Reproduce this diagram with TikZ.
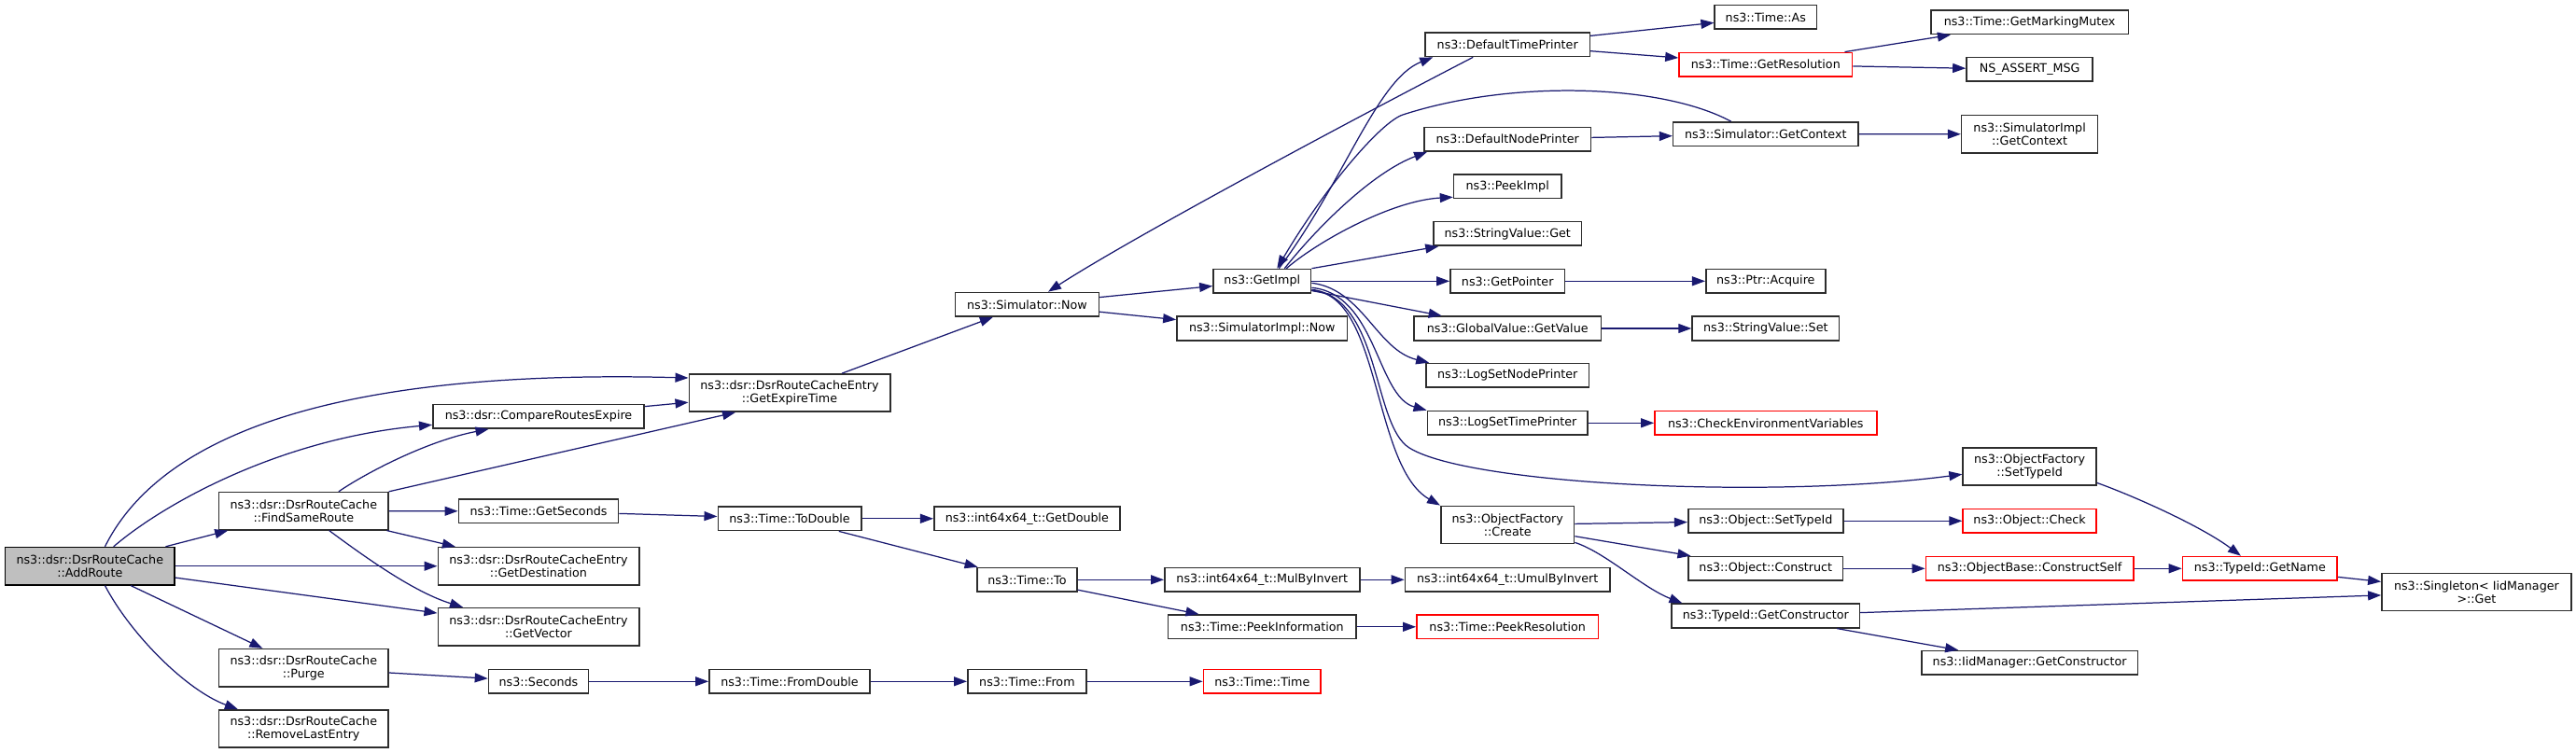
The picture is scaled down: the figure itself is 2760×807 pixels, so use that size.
\documentclass[tikz,border=0pt]{standalone}
\usepackage{fontspec}
\setmainfont{DejaVu Sans}
\usetikzlibrary{arrows.meta}
\definecolor{edgeblue}{RGB}{25,25,112}
\definecolor{boxline}{RGB}{45,45,45}
\definecolor{truncred}{RGB}{255,0,0}
\definecolor{curgray}{RGB}{191,191,191}
\begin{document}
\begin{tikzpicture}[x=0.5pt,y=-0.5pt,
  fn/.style={draw=boxline, line width=0.8pt, fill=white, inner sep=0pt, align=center,
    font=\fontsize{6.35}{7.15}\selectfont},
  one/.style={fn, minimum height=12.8pt},
  two/.style={fn, minimum height=20.1pt},
  bw/.style={minimum width=#1*0.5pt},
  trunc/.style={draw=truncred},
  cur/.style={fill=curgray, draw=black},
  call/.style={draw=edgeblue, line width=0.62pt, -{Triangle[length=7pt,width=5pt]}}]
\fill[white] (0,0) rectangle (2760,807);
\useasboundingbox (0,0) rectangle (2760,807);
% column 1-2
\node[two,cur,bw=181.5] (AddRoute) at (96.3,606.7) {ns3::dsr::DsrRouteCache\\::AddRoute};
\node[two,bw=181.3] (FindSame) at (325.3,547.7) {ns3::dsr::DsrRouteCache\\::FindSameRoute};
\node[two,bw=181.3] (Purge) at (325.3,715.7) {ns3::dsr::DsrRouteCache\\::Purge};
\node[two,bw=181.3] (RemoveLast) at (325.3,781) {ns3::dsr::DsrRouteCache\\::RemoveLastEntry};
% column 3
\node[one,bw=226.4] (Compare) at (577,446.3) {ns3::dsr::CompareRoutesExpire};
\node[one,bw=171.3] (GetSeconds) at (577,547.8) {ns3::Time::GetSeconds};
\node[two,bw=215.4] (GetDest) at (577,606.7) {ns3::dsr::DsrRouteCacheEntry\\::GetDestination};
\node[two,bw=215.4] (GetVector) at (577,671.7) {ns3::dsr::DsrRouteCacheEntry\\::GetVector};
\node[one,bw=107] (Seconds) at (577,730.3) {ns3::Seconds};
% column 4
\node[two,bw=215.4] (GetExpire) at (846,421) {ns3::dsr::DsrRouteCacheEntry\\::GetExpireTime};
\node[one,bw=153.4] (ToDouble) at (846,555.8) {ns3::Time::ToDouble};
\node[one,bw=172.2] (FromDouble) at (846,730.3) {ns3::Time::FromDouble};
% column 5
\node[one,bw=153.8] (SimNow) at (1100.4,326.3) {ns3::Simulator::Now};
\node[one,bw=199.3] (GetDouble) at (1100.4,555.8) {ns3::int64x64\_t::GetDouble};
\node[one,bw=107] (TimeTo) at (1100.4,621.3) {ns3::Time::To};
\node[one,bw=127.2] (TimeFrom) at (1100.4,730.3) {ns3::Time::From};
% column 6
\node[one,bw=104.7] (GetImpl) at (1352.3,301.3) {ns3::GetImpl};
\node[one,bw=182.7] (SimImplNow) at (1352.3,352) {ns3::SimulatorImpl::Now};
\node[one,bw=209] (MulBy) at (1352.3,621.3) {ns3::int64x64\_t::MulByInvert};
\node[one,bw=201.6] (PeekInfo) at (1352.3,671.8) {ns3::Time::PeekInformation};
\node[one,trunc,bw=125.8] (TimeTime) at (1352.3,730.3) {ns3::Time::Time};
% column 7
\node[one,bw=176.3] (DTP) at (1615.2,47.8) {ns3::DefaultTimePrinter};
\node[one,bw=178.7] (DNP) at (1615.2,149.2) {ns3::DefaultNodePrinter};
\node[one,bw=115.3] (PeekImpl) at (1615.2,199.7) {ns3::PeekImpl};
\node[one,bw=158.4] (SVGet) at (1615.2,250.5) {ns3::StringValue::Get};
\node[one,bw=122.6] (GetPointer) at (1615.2,301.3) {ns3::GetPointer};
\node[one,bw=200.2] (GVGet) at (1615.2,352) {ns3::GlobalValue::GetValue};
\node[one,bw=174.5] (LSNP) at (1615.2,402.3) {ns3::LogSetNodePrinter};
\node[one,bw=171.7] (LSTP) at (1615.2,453.3) {ns3::LogSetTimePrinter};
\node[two,bw=142.8] (OFCreate) at (1615.2,562.5) {ns3::ObjectFactory\\::Create};
\node[one,bw=219.5] (Umul) at (1615.2,621.3) {ns3::int64x64\_t::UmulByInvert};
\node[one,trunc,bw=194.7] (PeekRes) at (1615.2,671.8) {ns3::Time::PeekResolution};
% column 8
\node[one,bw=109.2] (TimeAs) at (1891.8,18.5) {ns3::Time::As};
\node[one,trunc,bw=185.6] (GetRes) at (1891.8,69.2) {ns3::Time::GetResolution};
\node[one,bw=198.4] (SimGetCtx) at (1891.8,143.7) {ns3::Simulator::GetContext};
\node[one,bw=128.1] (PtrAcquire) at (1891.8,301.3) {ns3::Ptr::Acquire};
\node[one,bw=157.5] (SVSet) at (1891.8,352) {ns3::StringValue::Set};
\node[one,trunc,bw=237.8] (CheckEnv) at (1891.8,453.3) {ns3::CheckEnvironmentVariables};
\node[one,bw=166.2] (ObjSetTypeId) at (1891.8,558.3) {ns3::Object::SetTypeId};
\node[one,bw=165.4] (ObjConstruct) at (1891.8,609.3) {ns3::Object::Construct};
\node[one,bw=201.2] (GetCons) at (1891.8,660) {ns3::TypeId::GetConstructor};
% column 9
\node[one,bw=211.4] (GMM) at (2174.6,23.8) {ns3::Time::GetMarkingMutex};
\node[one,bw=135.3] (NSAssert) at (2174.6,74.5) {NS\_ASSERT\_MSG};
\node[two,bw=146] (SIGC) at (2174.6,143.8) {ns3::SimulatorImpl\\::GetContext};
\node[two,bw=143] (OFSetTypeId) at (2174.6,499.8) {ns3::ObjectFactory\\::SetTypeId};
\node[one,trunc,bw=143] (ObjCheck) at (2174.6,558.3) {ns3::Object::Check};
\node[one,trunc,bw=222.5] (ConstructSelf) at (2174.6,609.3) {ns3::ObjectBase::ConstructSelf};
\node[one,bw=231.8] (IidGetCons) at (2174.6,710.3) {ns3::IidManager::GetConstructor};
% column 10-11
\node[one,trunc,bw=165.7] (GetName) at (2421.3,609.3) {ns3::TypeId::GetName};
\node[two,bw=203] (Singleton) at (2653.4,634.5) {ns3::Singleton< IidManager\\>::Get};
% edges from AddRoute
\draw[call] ([xshift=8.1pt]AddRoute.north) .. controls (170,470) and (350,395) .. ([yshift=8pt]GetExpire.west);
\draw[call] ([xshift=12.7pt]AddRoute.north) .. controls (175,540) and (300,470) .. ([yshift=-4.5pt]Compare.west);
\draw[call] (AddRoute) -- (FindSame);
\draw[call] (AddRoute) -- (GetDest);
\draw[call] (AddRoute) -- (GetVector);
\draw[call] (AddRoute) -- (Purge);
\draw[call] ([xshift=8.1pt]AddRoute.south) .. controls (140,680) and (200,740) .. ([xshift=-35.2pt]RemoveLast.north);
% FindSameRoute
\draw[call] ([xshift=18.75pt]FindSame.north) .. controls (395,505) and (460,472) .. ([xshift=-26.75pt]Compare.south);
\draw[call] (FindSame.north east) -- ([xshift=-29pt]GetExpire.south);
\draw[call] (FindSame) -- (GetSeconds);
\draw[call] (FindSame) -- (GetDest);
\draw[call] ([xshift=13.7pt]FindSame.south) .. controls (395,600) and (445,635) .. ([xshift=-40.5pt]GetVector.north);
\draw[call] (Compare) -- (GetExpire);
\draw[call] (GetSeconds) -- (ToDouble);
\draw[call] (Purge) -- (Seconds);
\draw[call] (Seconds) -- (FromDouble);
% middle
\draw[call] (GetExpire) -- (SimNow);
\draw[call] (SimNow) -- (GetImpl);
\draw[call] (SimNow) -- (SimImplNow);
\draw[call] ([xshift=-18.5pt]DTP.south) .. controls (1480,112) and (1220,250) .. ([xshift=11.3pt]SimNow.north);
\draw[call] (ToDouble) -- (GetDouble);
\draw[call] (ToDouble) -- (TimeTo);
\draw[call] (TimeTo) -- (MulBy);
\draw[call] (TimeTo) -- (PeekInfo);
\draw[call] (MulBy) -- (Umul);
\draw[call] (PeekInfo) -- (PeekRes);
\draw[call] (FromDouble) -- (TimeFrom);
\draw[call] (TimeFrom) -- (TimeTime);
% GetImpl fan
\draw[call] ([xshift=9pt]GetImpl.north) .. controls (1440,195) and (1475,85) .. ([xshift=4.5pt]DTP.south west);
\draw[call] ([xshift=12pt]GetImpl.north) .. controls (1410,245) and (1470,185) .. ([xshift=2pt]DNP.south west);
\draw[call] ([xshift=13pt]GetImpl.north) .. controls (1410,260) and (1490,215) .. ([yshift=1pt]PeekImpl.south west);
\draw[call] (GetImpl.north east) -- ([xshift=3pt]SVGet.south west);
\draw[call] (GetImpl) -- (GetPointer);
\draw[call] (GetImpl) -- (GVGet);
\draw[call] ([yshift=-1pt]GetImpl.east) .. controls (1460,310) and (1475,375) .. ([xshift=2pt]LSNP.north west);
\draw[call] ([yshift=-3.5pt]GetImpl.east) .. controls (1475,315) and (1475,425) .. (LSTP.north west);
\draw[call] ([yshift=-4.5pt]GetImpl.east) .. controls (1480,320) and (1470,455) .. (1510,480)
   .. controls (1574,520) and (1900,535) .. ([yshift=-4.25pt]OFSetTypeId.west);
\draw[call] ([yshift=-5pt]GetImpl.east) .. controls (1480,315) and (1470,500) .. (OFCreate.north west);
\draw[call] ([xshift=-18.6pt]SimGetCtx.north) .. controls (1780,90) and (1620,85) .. (1503,123)
   .. controls (1480,130.5) and (1420,200) .. ([xshift=8pt]GetImpl.north);
% right part
\draw[call] (DTP) -- (TimeAs);
\draw[call] (DTP) -- (GetRes);
\draw[call] (GetRes) -- (GMM);
\draw[call] (GetRes) -- (NSAssert);
\draw[call] (DNP) -- (SimGetCtx);
\draw[call] (SimGetCtx) -- (SIGC);
\draw[call] (GetPointer) -- (PtrAcquire);
\draw[call] (GVGet) -- (SVSet);
\draw[call] (LSTP) -- (CheckEnv);
\draw[call] (OFCreate) -- (ObjSetTypeId);
\draw[call] (OFCreate) -- (ObjConstruct);
\draw[call] ([yshift=1pt]OFCreate.south east) .. controls (1720,592) and (1760,630) .. ([xshift=6pt]GetCons.north west);
\draw[call] (ObjSetTypeId) -- (ObjCheck);
\draw[call] (ObjConstruct) -- (ConstructSelf);
\draw[call] (ConstructSelf) -- (GetName);
\draw[call] ([yshift=1.6pt]OFSetTypeId.south east) .. controls (2290,533) and (2360,565) .. ([xshift=-10.2pt]GetName.north);
\draw[call] (GetName) -- (Singleton);
\draw[call] (GetCons) -- (Singleton);
\draw[call] (GetCons) -- (IidGetCons);
\end{tikzpicture}
\end{document}
